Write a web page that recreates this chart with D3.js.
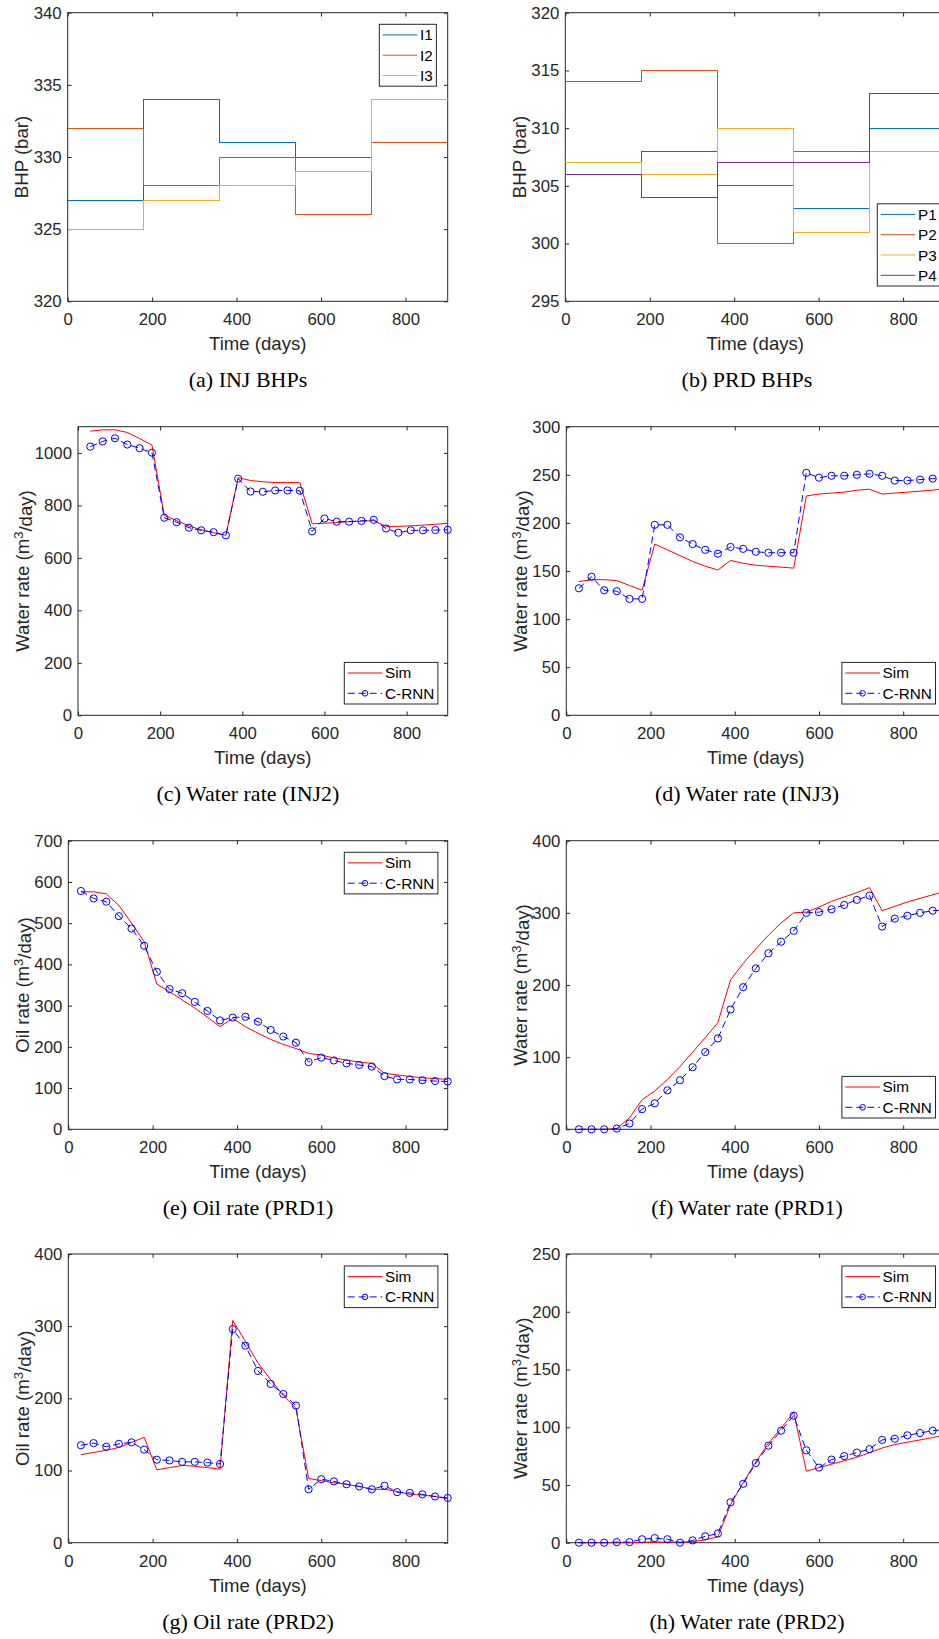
<!DOCTYPE html>
<html>
<head>
<meta charset="utf-8">
<script src="https://cdn.jsdelivr.net/npm/d3@7"></script>
<style>
  body { margin: 0; background: #fff; }
  svg text { font-family: "Liberation Sans", Arial, Helvetica, sans-serif; }
  svg text.caption { font-family: "Liberation Serif", "Times New Roman", Times, serif; }
</style>
</head>
<body>
<script>

// time axis (days)
const days = [30, 60, 90, 120, 150, 180, 210, 240, 270, 300, 330, 360, 390, 420, 450,
              480, 510, 540, 570, 600, 630, 660, 690, 720, 750, 780, 810, 840, 870, 900]
const stepDays = [0, 180, 360, 540, 720, 900] // control steps for the BHP plots
const xTicks = [0, 200, 400, 600, 800]

// (a) injector BHPs, one value per control step
const bhpI1 = [327, 334, 331, 330, 334]
const bhpI2 = [332, 328, 330, 326, 331]
const bhpI3 = [325, 327, 328, 329, 334]
// (b) producer BHPs
const bhpP1 = [307, 308, 305, 303, 310]
const bhpP2 = [314, 315, 300, 308, 308]
const bhpP3 = [307, 306, 310, 301, 308]
const bhpP4 = [306, 304, 307, 307, 313]

// (c) water rate INJ2
const simINJ2  = [1083, 1088, 1088, 1078, 1055, 1030, 762, 742, 722, 707, 696, 686, 906, 895, 890, 887, 887, 887,
                  730, 732, 735, 738, 740, 742, 720, 720, 722, 725, 728, 732]
const crnnINJ2 = [1024, 1044, 1056, 1032, 1018, 1001, 753, 736, 715, 705, 698, 686, 902, 853, 852, 857, 857, 856,
                  701, 750, 738, 738, 741, 745, 712, 696, 705, 705, 706, 707]
// (d) water rate INJ3
const simINJ3  = [139, 141, 141, 140, 135, 130, 178, 172, 166, 160, 155, 151, 161, 158, 156, 155, 154, 153,
                  228, 230, 231, 232, 234, 235, 230, 231, 232, 233, 234, 236]
const crnnINJ3 = [132, 144, 130, 129, 121, 121, 198, 198, 185, 178, 172, 168, 175, 173, 170, 169, 169, 169,
                  252, 247, 249, 249, 250, 251, 249, 244, 244, 245, 246, 246]
// (e) oil rate PRD1
const simOilPRD1  = [576, 576, 571, 543, 500, 455, 352, 334, 314, 294, 272, 249, 269, 249, 233, 218, 206, 196,
                     184, 180, 173, 168, 163, 160, 136, 132, 128, 125, 123, 121]
const crnnOilPRD1 = [578, 560, 552, 517, 487, 445, 382, 340, 330, 309, 287, 264, 271, 273, 261, 241, 225, 210,
                     163, 174, 167, 160, 156, 152, 129, 121, 121, 119, 117, 116]
// (f) water rate PRD1
const simWatPRD1  = [0, 0, 0, 1, 16, 41, 53, 69, 87, 107, 127, 148, 207, 230, 250, 269, 286, 300,
                     301, 308, 316, 322, 328, 335, 303, 309, 315, 320, 325, 330]
const crnnWatPRD1 = [0, 0, 0, 1, 8, 28, 36, 54, 68, 86, 107, 126, 166, 197, 223, 244, 260, 275,
                     300, 301, 305, 311, 318, 324, 281, 292, 296, 300, 303, 304]
// (g) oil rate PRD2
const simOilPRD2  = [122, 125, 128, 132, 139, 146, 101, 104, 107, 106, 104, 102, 308, 279, 249, 226, 204, 186,
                     89, 86, 83, 81, 78, 74, 74, 71, 67, 66, 64, 61]
const crnnOilPRD2 = [135, 138, 133, 137, 139, 129, 115, 114, 112, 112, 111, 109, 296, 273, 238, 220, 206, 190,
                     74, 88, 85, 81, 78, 74, 79, 70, 69, 67, 64, 62]
// (h) water rate PRD2
const simWatPRD2  = [0, 0, 0, 0, 0, 0.3, 0.5, 0.5, 0.5, 1, 2.5, 5, 33, 52, 70, 86, 99, 113,
                     62, 65, 68, 71, 74, 78, 82, 85, 87, 89, 91, 93]
const crnnWatPRD2 = [0, 0, 0, 0.5, 0.5, 3, 4, 3, 0, 2, 5.5, 8, 35, 51, 69, 84, 97, 110,
                     80, 65, 72, 75, 78, 81, 89, 90, 93, 95, 97, 98]

// y tick labels
const ticksInjBHP = [320, 325, 330, 335, 340]
const ticksPrdBHP = [295, 300, 305, 310, 315, 320]
const ticksINJ2   = [0, 200, 400, 600, 800, 1000]
const ticksINJ3   = [0, 50, 100, 150, 200, 250, 300]
const ticksOil1   = [0, 100, 200, 300, 400, 500, 600, 700]
const ticksWat1   = [0, 100, 200, 300, 400]
const ticksOil2   = [0, 100, 200, 300, 400]
const ticksWat2   = [0, 50, 100, 150, 200, 250]


const COL = ["#0072BD", "#D95319", "#EDB120", "#7E2F8E"] // matlab default order
const AX = "#262626"
const TICK_FS = 16.8, LABEL_FS = 18.6, LEG_FS = 15.3
const TICK_LEN = 3.8

const svg = d3.select("body").append("svg")
    .attr("width", 939).attr("height", 1639)

const stairs = vals => stepDays.map((d, i) => [d, vals[Math.min(i, vals.length - 1)]])
const pairs = vals => days.map((d, i) => [d, vals[i]])

const stepSeries = (name, vals, color) => ({name, pts: stairs(vals), color, step: true})
const simSeries = vals => ({name: "Sim", pts: pairs(vals), color: "#FF0000"})
const crnnSeries = vals => ({name: "C-RNN", pts: pairs(vals), color: "#0000FF", dash: "7,4", marker: true})

const rateLabel = what => [what + " rate (m", "3", "/day)"]

function drawPanel(p) {
    const [x0, y0, x1, y1] = p.box
    const W = x1 - x0, H = y1 - y0
    const g = svg.append("g").attr("transform", `translate(${x0},${y0})`)

    const x = d3.scaleLinear().domain([0, 900]).range([0, W])
    const y = d3.scaleLinear().domain(p.yDomain).range([H, 0])
    const plain = d => String(d) // no thousands separator, like matlab

    // axes, ticks point inward on all four sides
    const styleAxis = a => a.attr("color", AX).attr("font-size", TICK_FS)
        .attr("font-family", null)
        .call(a => a.select(".domain").remove())

    g.append("g").attr("transform", `translate(0,${H})`)
        .call(d3.axisBottom(x).tickValues(xTicks).tickFormat(plain)
            .tickSizeInner(-TICK_LEN).tickSizeOuter(0).tickPadding(12))
        .call(styleAxis)
    g.append("g")
        .call(d3.axisTop(x).tickValues(xTicks).tickSizeInner(-TICK_LEN).tickSizeOuter(0).tickFormat(""))
        .call(styleAxis)
    const gy = g.append("g")
        .call(d3.axisLeft(y).tickValues(p.yTicks).tickFormat(plain)
            .tickSizeInner(-TICK_LEN).tickSizeOuter(0).tickPadding(6))
        .call(styleAxis)
    g.append("g").attr("transform", `translate(${W},0)`)
        .call(d3.axisRight(y).tickValues(p.yTicks).tickSizeInner(-TICK_LEN).tickSizeOuter(0).tickFormat(""))
        .call(styleAxis)

    g.append("rect")
        .attr("width", W).attr("height", H)
        .attr("fill", "none").attr("stroke", AX).attr("stroke-width", 1)

    // series
    p.series.forEach(s => {
        const line = d3.line().x(d => x(d[0])).y(d => y(d[1]))
        if (s.step) line.curve(d3.curveStepAfter)
        g.append("path").datum(s.pts)
            .attr("d", line)
            .attr("fill", "none")
            .attr("stroke", s.color)
            .attr("stroke-width", 1)
            .attr("stroke-dasharray", s.dash || null)
            .attr("shape-rendering", s.step ? "crispEdges" : null) // later stairs hide earlier ones fully
        if (s.marker) {
            g.append("g").selectAll("circle").data(s.pts).join("circle")
                .attr("cx", d => x(d[0])).attr("cy", d => y(d[1]))
                .attr("r", 3.6)
                .attr("fill", "none").attr("stroke", s.color).attr("stroke-width", 1)
        }
    })

    // x label
    g.append("text")
        .attr("x", W / 2).attr("y", H + 49)
        .attr("text-anchor", "middle")
        .attr("font-size", LABEL_FS).attr("fill", AX)
        .text("Time (days)")

    // y label, placed left of the widest tick label
    const bb = gy.node().getBBox()
    const yl = g.append("text")
        .attr("transform", `translate(${bb.x - 5.5},${H / 2}) rotate(-90)`)
        .attr("text-anchor", "middle")
        .attr("font-size", LABEL_FS).attr("fill", AX)
    if (typeof p.ylabel === "string") yl.text(p.ylabel)
    else {
        yl.append("tspan").text(p.ylabel[0])
        yl.append("tspan").attr("dy", "-0.45em").attr("font-size", "0.7em").text(p.ylabel[1])
        yl.append("tspan").attr("dy", "0.45em").text(p.ylabel[2])
    }

    // legend
    const rowH = 20.3
    const leg = g.append("g")
    const box = leg.append("rect").attr("fill", "#fff").attr("stroke", AX).attr("stroke-width", 1)
    let tw = 0
    p.series.forEach((s, i) => {
        const cy = 10.6 + i * rowH
        leg.append("line")
            .attr("x1", 3.4).attr("x2", 38).attr("y1", cy).attr("y2", cy)
            .attr("stroke", s.color).attr("stroke-width", 1)
            .attr("stroke-dasharray", s.dash || null)
        if (s.marker)
            leg.append("circle").attr("cx", 20.7).attr("cy", cy).attr("r", 2.8)
                .attr("fill", "none").attr("stroke", s.color).attr("stroke-width", 1)
        const t = leg.append("text")
            .attr("x", 40.7).attr("y", cy).attr("dy", "0.36em")
            .attr("font-size", LEG_FS).attr("fill", "#000")
            .text(s.name)
        tw = Math.max(tw, t.node().getComputedTextLength())
    })
    const lw = 40.7 + tw + 3.6
    const lh = p.series.length * rowH + 1
    box.attr("width", lw).attr("height", lh)
    const lx = W - p.legend.fromRight
    const ly = p.legend.top != null ? p.legend.top : H - p.legend.bottom - lh
    leg.attr("transform", `translate(${lx},${ly})`)

    // caption
    svg.append("text")
        .attr("class", "caption")
        .attr("x", p.capX).attr("y", y1 + 86)
        .attr("text-anchor", "middle")
        .attr("font-size", 22).attr("fill", "#000")
        .text(p.caption)
}

const panels = [
    {box: [67.7, 12.7, 447.7, 301.3], yDomain: [320, 340], yTicks: ticksInjBHP, ylabel: "BHP (bar)",
     series: [stepSeries("I1", bhpI1, COL[0]), stepSeries("I2", bhpI2, COL[1]), stepSeries("I3", bhpI3, COL[2])],
     legend: {fromRight: 68.4, top: 11.6}, capX: 248, caption: "(a) INJ BHPs"},
    {box: [565.3, 12.7, 945.3, 301.3], yDomain: [295, 320], yTicks: ticksPrdBHP, ylabel: "BHP (bar)",
     series: [stepSeries("P1", bhpP1, COL[0]), stepSeries("P2", bhpP2, COL[1]),
              stepSeries("P3", bhpP3, COL[2]), stepSeries("P4", bhpP4, COL[3])],
     legend: {fromRight: 68, bottom: 15.3}, capX: 747, caption: "(b) PRD BHPs"},
    {box: [78, 426.7, 447.7, 715.3], yDomain: [0, 1100], yTicks: ticksINJ2, ylabel: rateLabel("Water"),
     series: [simSeries(simINJ2), crnnSeries(crnnINJ2)],
     legend: {fromRight: 103.4, bottom: 11.3}, capX: 248, caption: "(c) Water rate (INJ2)"},
    {box: [566.3, 426.7, 945.3, 715.3], yDomain: [0, 300], yTicks: ticksINJ3, ylabel: rateLabel("Water"),
     series: [simSeries(simINJ3), crnnSeries(crnnINJ3)],
     legend: {fromRight: 103.4, bottom: 11.3}, capX: 747, caption: "(d) Water rate (INJ3)"},
    {box: [68.3, 840.7, 447.7, 1129.3], yDomain: [0, 700], yTicks: ticksOil1, ylabel: rateLabel("Oil"),
     series: [simSeries(simOilPRD1), crnnSeries(crnnOilPRD1)],
     legend: {fromRight: 103.4, top: 11.6}, capX: 248, caption: "(e) Oil rate (PRD1)"},
    {box: [566.3, 840.7, 945.3, 1129.3], yDomain: [0, 400], yTicks: ticksWat1, ylabel: rateLabel("Water"),
     series: [simSeries(simWatPRD1), crnnSeries(crnnWatPRD1)],
     legend: {fromRight: 103.4, bottom: 11.3}, capX: 747, caption: "(f) Water rate (PRD1)"},
    {box: [68.3, 1254, 447.7, 1542.7], yDomain: [0, 400], yTicks: ticksOil2, ylabel: rateLabel("Oil"),
     series: [simSeries(simOilPRD2), crnnSeries(crnnOilPRD2)],
     legend: {fromRight: 103.4, top: 12}, capX: 248, caption: "(g) Oil rate (PRD2)"},
    {box: [566.3, 1254, 945.3, 1542.7], yDomain: [0, 250], yTicks: ticksWat2, ylabel: rateLabel("Water"),
     series: [simSeries(simWatPRD2), crnnSeries(crnnWatPRD2)],
     legend: {fromRight: 103.4, top: 12}, capX: 747, caption: "(h) Water rate (PRD2)"}
]

panels.forEach(drawPanel)

</script>
</body>
</html>
